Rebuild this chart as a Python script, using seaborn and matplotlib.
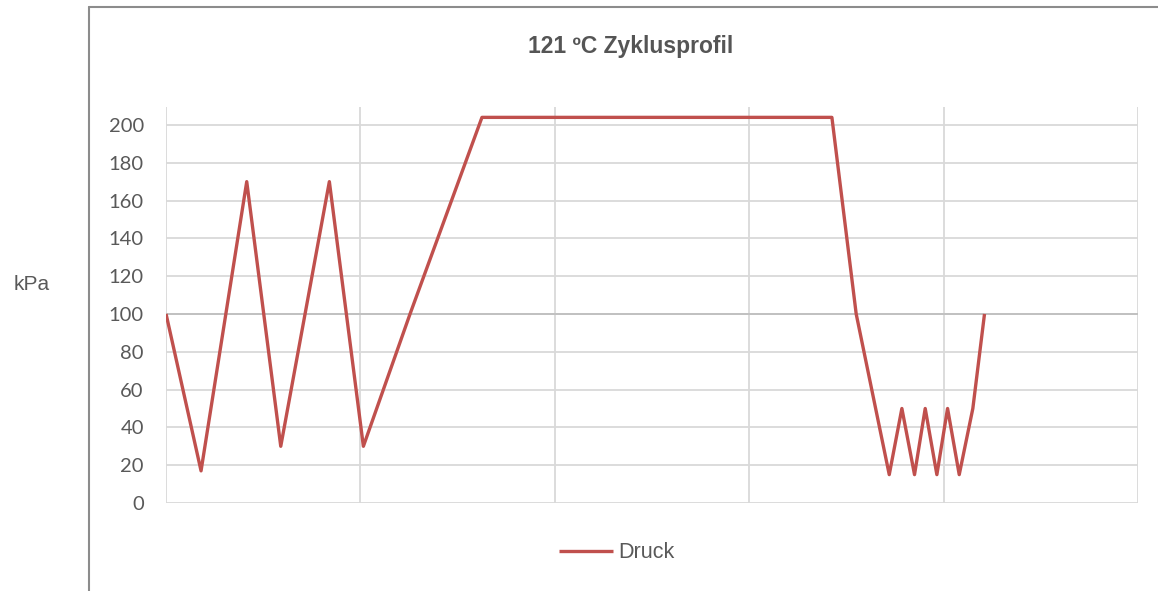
import matplotlib
matplotlib.use("Agg")
import matplotlib.pyplot as plt
from matplotlib.lines import Line2D
import seaborn as sns
import pandas as pd

# Pressure profile of the 121 °C sterilisation cycle
time = [0, 3.6, 8.3, 11.8, 16.8, 20.3, 25.1, 32.5, 68.5, 71.0,
        74.4, 75.7, 77.0, 78.1, 79.3, 80.4, 81.6, 83.0, 84.2]
pressure = [100, 17, 170, 30, 170, 30, 100, 204, 204, 100,
            15, 50, 15, 50, 15, 50, 15, 50, 100]
yticks = [0, 20, 40, 60, 80, 100, 120, 140, 160, 180, 200]
xgrid = [0, 20, 40, 60, 80, 100]

title = "121 ºC Zyklusprofil"
ylabel = "kPa"
series = "Druck"

df = pd.DataFrame({"t": time, series: pressure})

sns.set_theme(style="white")
plt.rcParams["font.family"] = ["Liberation Sans", "DejaVu Sans"]

fig = plt.figure(figsize=(11.58, 5.91), dpi=100)
ax = fig.add_axes([0.1434, 0.1489, 0.8394, 0.6701])

grid_col = "#d9d9d9"
sns.lineplot(data=df, x="t", y=series, sort=False, ax=ax, color="#c0504d",
             linewidth=2.4, label=series, solid_joinstyle="round",
             solid_capstyle="butt")

ax.set_xlim(0, 100)
ax.set_ylim(0, 209.5)
ax.set_xticks(xgrid)
ax.set_yticks(yticks)
ax.set_xticklabels([])
ax.grid(True, color=grid_col, linewidth=1.3)
ax.axhline(100, color="#bfbfbf", linewidth=1.3, zorder=1.5)
ax.set_axisbelow(True)
for s in ax.spines.values():
    s.set_visible(False)
ax.tick_params(axis="both", length=0)
ax.tick_params(axis="y", pad=16)
for lab in ax.get_yticklabels():
    lab.set_fontfamily(["Lato", "DejaVu Sans"])
    lab.set_fontsize(14.5)
    lab.set_color("#595959")
ax.set_xlabel("")
ax.set_ylabel("")

leg = ax.legend(loc="center", bbox_to_anchor=(0.464, -0.126), frameon=False,
                handlelength=2.5, handletextpad=0.25, fontsize=15.5)
for t in leg.get_texts():
    t.set_color("#595959")

fig.text(631 / 1158, 1 - 46 / 591, title, ha="center", va="center",
         fontsize=16.5, fontweight="bold", color="#555555")
fig.text(32 / 1158, 1 - 284 / 591, ylabel, ha="center", va="center",
         fontsize=15, color="#595959")

# outer chart frame (left and top edges)
frame_col = "#8c8c8c"
fig.add_artist(Line2D([89 / 1158, 89 / 1158], [0, 1 - 7 / 591],
                      transform=fig.transFigure, color=frame_col, linewidth=1.5))
fig.add_artist(Line2D([89 / 1158, 1], [1 - 7 / 591, 1 - 7 / 591],
                      transform=fig.transFigure, color=frame_col, linewidth=1.5))

fig.savefig("out.png", dpi=100)
